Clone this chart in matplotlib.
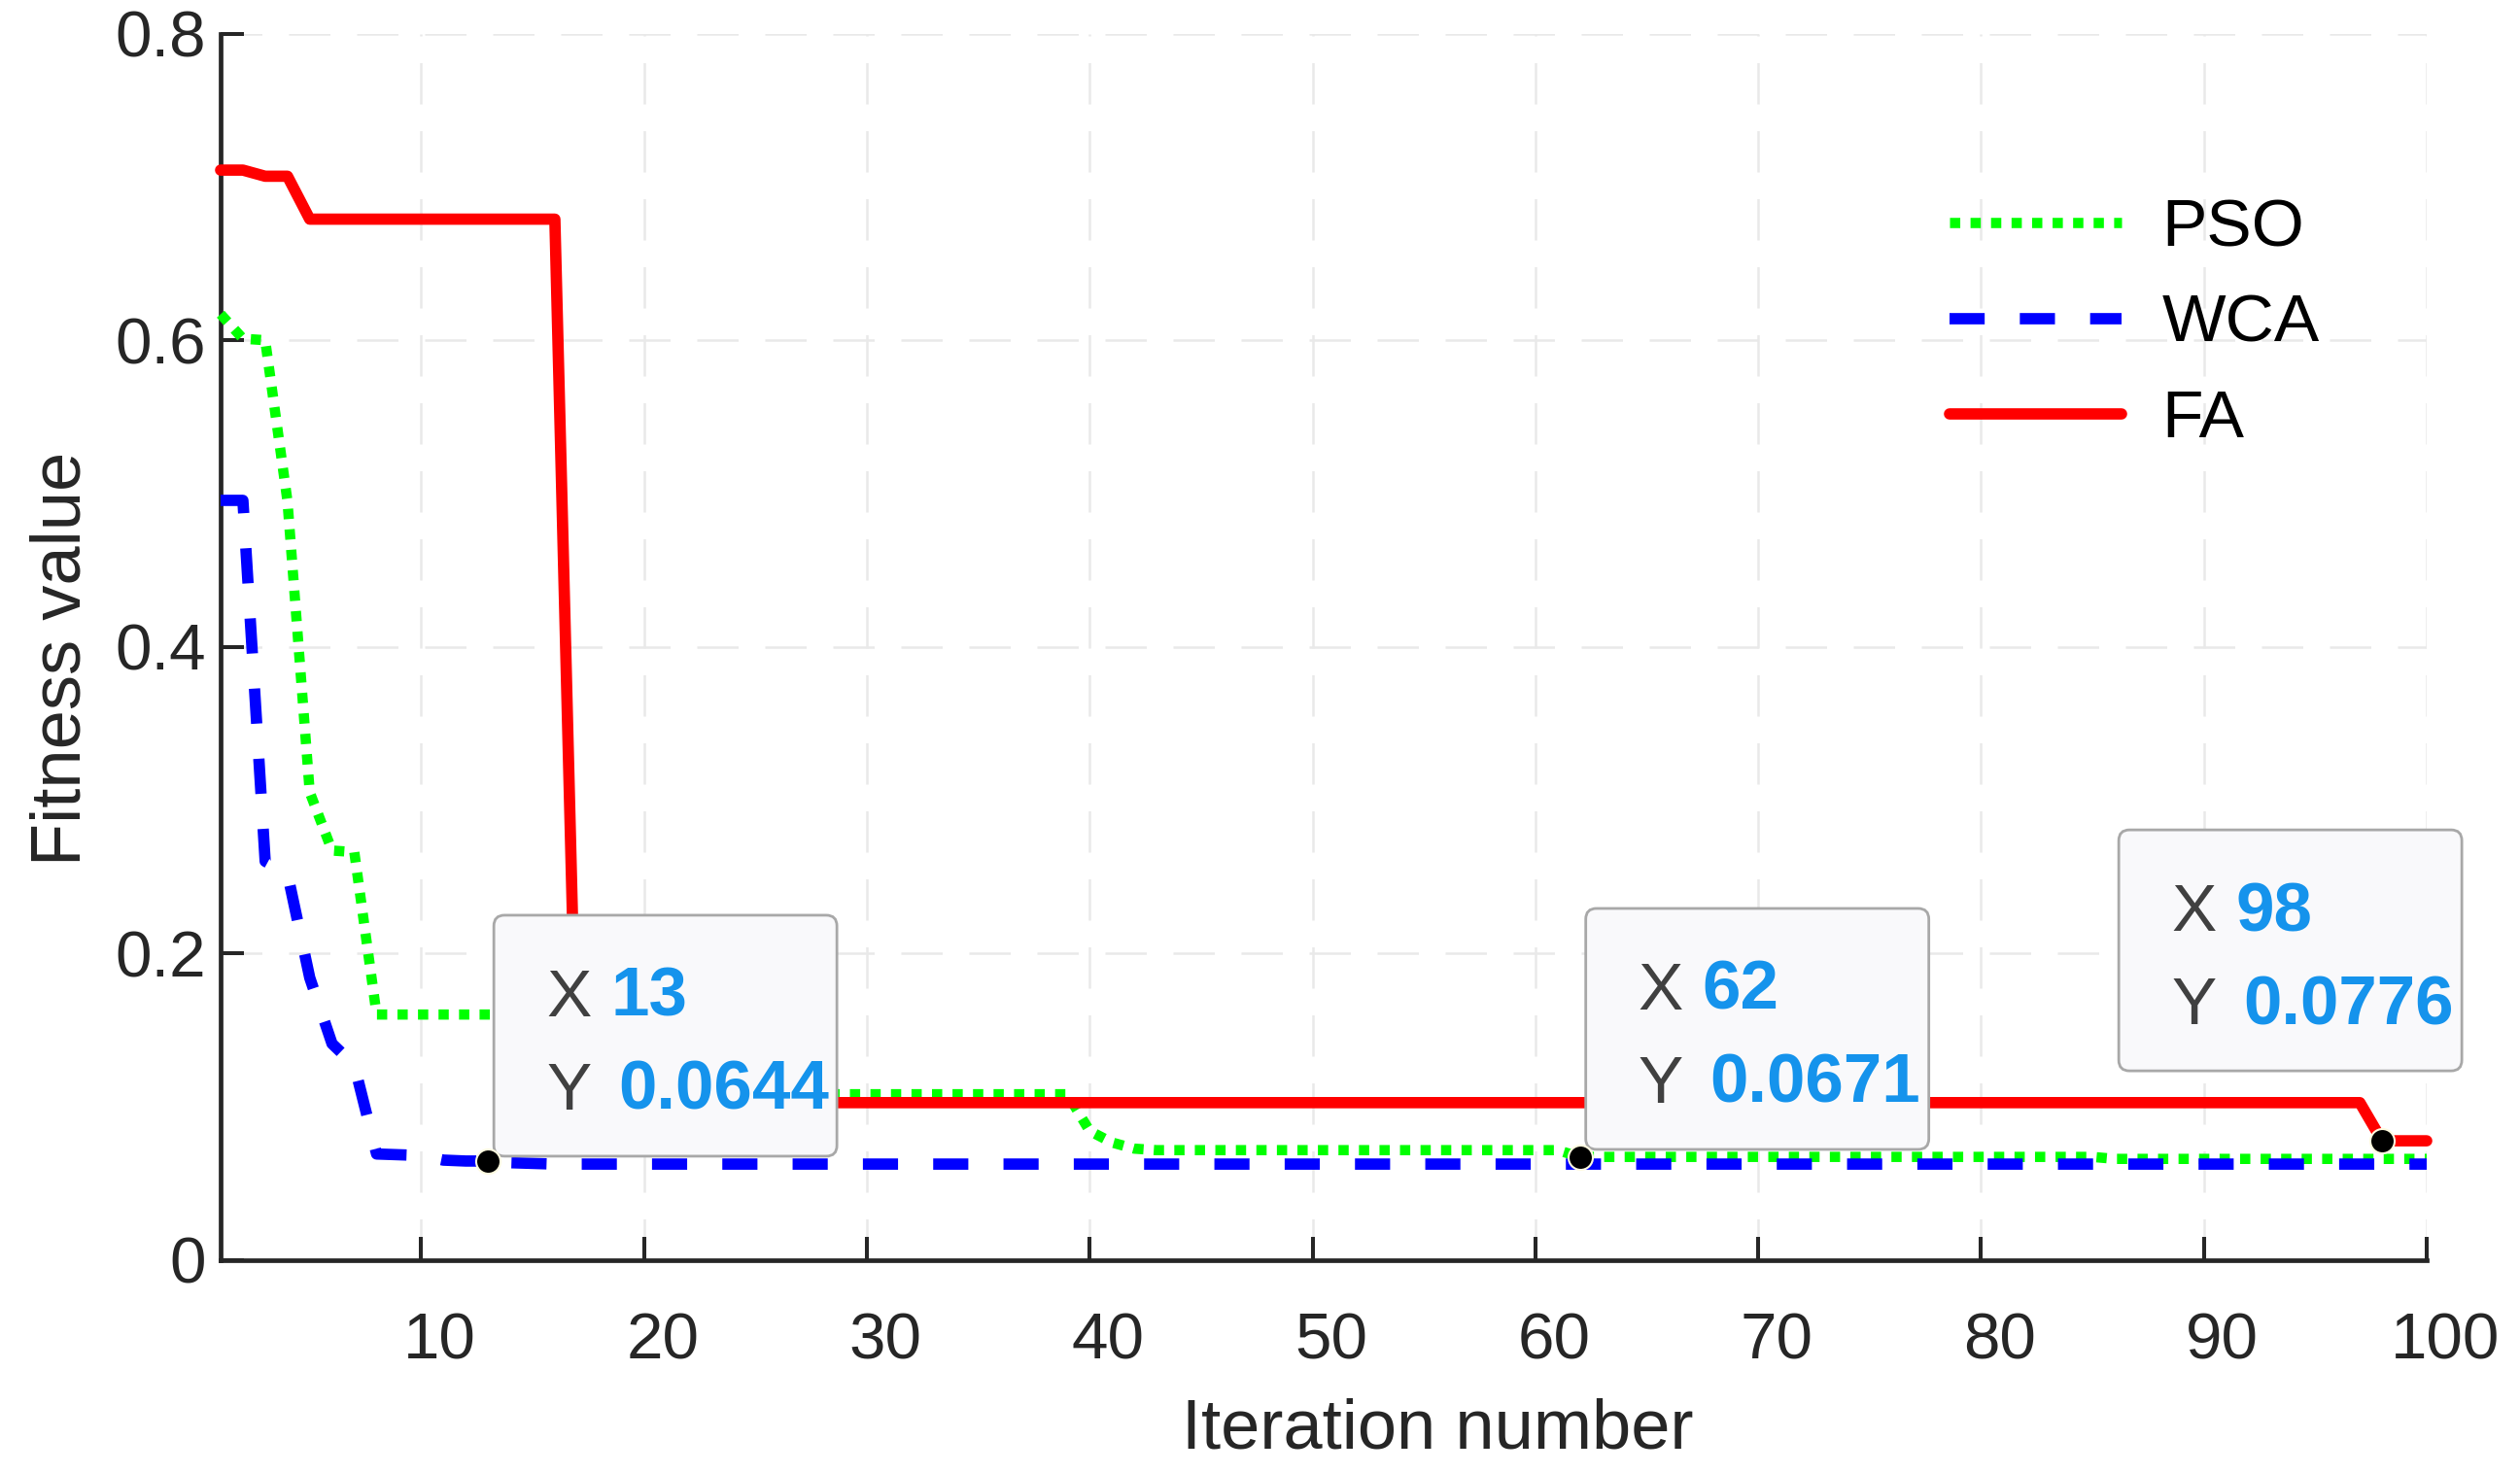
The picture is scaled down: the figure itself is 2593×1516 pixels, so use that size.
import matplotlib
matplotlib.use("Agg")
import matplotlib.pyplot as plt
from matplotlib.patches import FancyBboxPatch
from matplotlib.transforms import IdentityTransform, ScaledTranslation

plt.rcParams['font.family'] = ['Liberation Sans', 'DejaVu Sans']

# ---------------- data ----------------
iter_pso = [1, 2, 3, 4, 5, 6, 7, 8, 24, 25, 39, 40, 41, 42, 43, 61, 62, 85, 86, 100]
fit_pso = [0.617, 0.601, 0.600, 0.495, 0.305, 0.267, 0.266, 0.160, 0.160, 0.108,
           0.108, 0.084, 0.0765, 0.0725, 0.0715, 0.0715, 0.0671, 0.0671, 0.0658, 0.0658]

iter_wca = [1, 2, 3, 4, 5, 6, 7, 8, 10, 11, 12, 13, 14, 16, 100]
fit_wca = [0.4955, 0.4955, 0.260, 0.252, 0.184, 0.141, 0.127, 0.069, 0.068, 0.065,
           0.0644, 0.0644, 0.0633, 0.0624, 0.0624]

iter_fa = [1, 2, 3, 4, 5, 16, 17, 97, 98, 100]
fit_fa = [0.711, 0.711, 0.707, 0.707, 0.679, 0.679, 0.1025, 0.1025, 0.0776, 0.0776]

series_names = ['PSO', 'WCA', 'FA']

x_ticks = [10, 20, 30, 40, 50, 60, 70, 80, 90, 100]
y_ticks = [0, 0.2, 0.4, 0.6, 0.8]
y_tick_labels = ['0', '0.2', '0.4', '0.6', '0.8']

tip_x = [13, 62, 98]
tip_y = [0.0644, 0.0671, 0.0776]
tip_x_text = ['13', '62', '98']
tip_y_text = ['0.0644', '0.0671', '0.0776']

# ---------------- figure ----------------
W, H, DPI = 2593, 1516, 100
fig = plt.figure(figsize=(W / DPI, H / DPI), dpi=DPI, facecolor='white')
ax = fig.add_axes([227 / W, 1 - 1296.5 / H, 2270 / W, 1261.8 / H])

AX_COL = '#262626'
ax.plot(iter_pso, fit_pso, color='#00ff00', lw=7.6, linestyle=(0, (1.0, 1.0)),
        dash_capstyle='butt', label=series_names[0], zorder=3, clip_on=False)
ax.plot(iter_wca, fit_wca, color='#0000ff', lw=8.4, linestyle=(0, (3.1, 3.1)),
        dash_capstyle='butt', label=series_names[1], zorder=4, clip_on=False)
ax.plot(iter_fa, fit_fa, color='#ff0000', lw=8.4, solid_capstyle='round',
        solid_joinstyle='round', label=series_names[2], zorder=5, clip_on=False)

ax.set_xlim(1, 100)
ax.set_ylim(0, 0.8)
ax.set_xticks(x_ticks)
ax.set_yticks(y_ticks)
ax.set_yticklabels(y_tick_labels)

for s in ['top', 'right']:
    ax.spines[s].set_visible(False)
for s in ['left', 'bottom']:
    ax.spines[s].set_linewidth(3.4)
    ax.spines[s].set_color(AX_COL)

ax.tick_params(axis='both', direction='in', length=17, width=2.9, color=AX_COL,
               labelsize=48.5, labelcolor=AX_COL)
ax.tick_params(axis='x', pad=39)
ax.tick_params(axis='y', pad=11)

# x tick labels in the reference sit slightly right of their ticks
for lab in ax.get_xticklabels():
    lab.set_transform(lab.get_transform() + ScaledTranslation(0.19, 0, fig.dpi_scale_trans))

ax.grid(True, color='#e9e9e9', lw=1.8, linestyle=(0, (17, 11)))
ax.set_axisbelow(True)

ax.set_xlabel('Iteration number', fontsize=52, color=AX_COL)
ax.xaxis.set_label_coords(0.5515, -0.1129)
ax.set_ylabel('Fitness value', fontsize=52, color=AX_COL)
ax.yaxis.set_label_coords(-0.057, 0.490)

ax.legend(loc='upper left', bbox_to_anchor=(0.7837, 0.866), frameon=False,
          fontsize=50, handlelength=2.55, handletextpad=0.6, labelspacing=0.49,
          borderpad=0, borderaxespad=0)

# ---------------- data tips ----------------
BOX_W, BOX_H = 353, 248
tip_offsets = [(6, 5), (6, 7.7), (-271, 72)]
VAL_COL = '#1593ec'
LAB_COL = '#404040'
ident = IdentityTransform()
for xv, yv, xs, ys, (dx, dy) in zip(tip_x, tip_y, tip_x_text, tip_y_text, tip_offsets):
    px, py = ax.transData.transform((xv, yv))
    left = px + dx
    bottom = py + dy
    top = bottom + BOX_H
    box = FancyBboxPatch((left, bottom), BOX_W, BOX_H,
                         boxstyle='round,pad=0,rounding_size=11',
                         transform=ident, facecolor='#f9f9fb', edgecolor='#a8a8a8',
                         lw=2.0, zorder=10, clip_on=False)
    ax.add_artist(box)
    ax.text(left + 54, top - 104, 'X', transform=ident, fontsize=50, color=LAB_COL,
            va='baseline', ha='left', zorder=11, clip_on=False)
    ax.text(left + 120, top - 104, xs, transform=ident, fontsize=51, color=VAL_COL,
            fontweight='bold', va='baseline', ha='left', zorder=11, clip_on=False)
    ax.text(left + 54, top - 200, 'Y', transform=ident, fontsize=50, color=LAB_COL,
            va='baseline', ha='left', zorder=11, clip_on=False)
    ax.text(left + 128, top - 200, ys, transform=ident, fontsize=51, color=VAL_COL,
            fontweight='bold', va='baseline', ha='left', zorder=11, clip_on=False)
    ax.plot([xv], [yv], 'o', ms=18, mfc='black', mec='#fffbe0', mew=1.5,
            zorder=12, clip_on=False)

fig.savefig('out.png', dpi=DPI, facecolor='white')
